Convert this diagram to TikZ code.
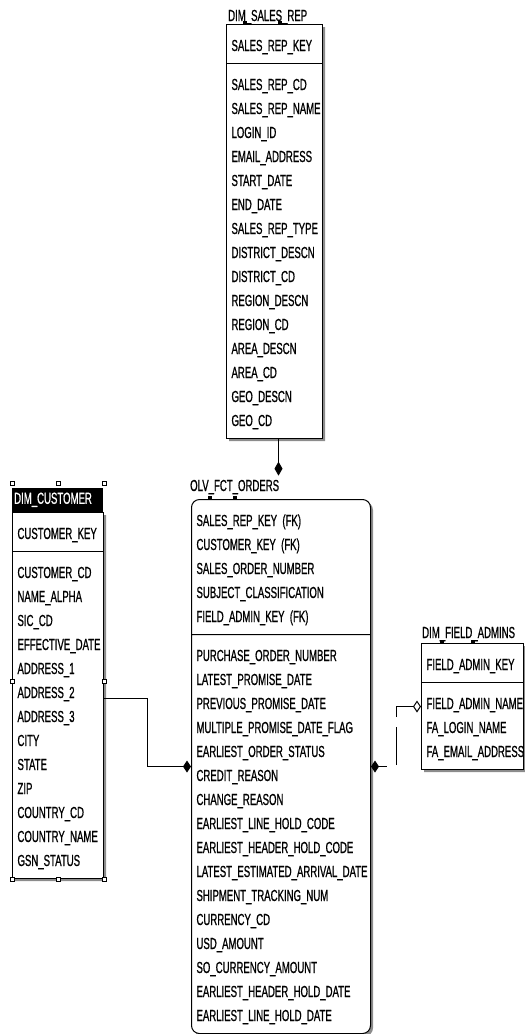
\documentclass[tikz,border=0pt]{standalone}
\usepackage{fontspec}
\usepackage{tikz}
\usetikzlibrary{arrows.meta}
\usetikzlibrary{calc}
\usetikzlibrary{positioning}
\usetikzlibrary{shadows}
\usetikzlibrary{shapes}

\newfontfamily\erfont[FakeStretch=0.6, FakeBold=0.8]{Liberation Sans}
\newcommand{\rw}{\rule[-5pt]{0pt}{\baselineskip}}

\tikzset{
	entity/.style={rectangle split, rectangle split parts=2, draw, line width=1pt,
		fill=white, align=left, inner xsep=5pt, inner ysep=7pt, anchor=north west,
		font=\erfont\fontsize{16}{24}\selectfont,
		drop shadow={shadow xshift=2.5pt, shadow yshift=-2.5pt, fill=black!45, opacity=1}},
	tablename/.style={anchor=base west, inner sep=0pt, font=\erfont\fontsize{16}{24}\selectfont},
	fkmark/.style={fill=black, minimum width=4pt, minimum height=3pt, inner sep=0pt, anchor=south},
	handle/.style={draw, fill=white, line width=0.8pt, minimum size=4pt, inner sep=0pt},
	idrel/.style={line width=1pt},
}

\begin{document}
\begin{tikzpicture}[x=1pt, y=-1pt]
	\useasboundingbox (0,0) rectangle (525,1034);

	\node[entity, text width=86pt] (salesrep) at (226,24) {\rw SALES\_REP\_KEY
	\nodepart{second}
	\rw SALES\_REP\_CD\\
	\rw SALES\_REP\_NAME\\
	\rw LOGIN\_ID\\
	\rw EMAIL\_ADDRESS\\
	\rw START\_DATE\\
	\rw END\_DATE\\
	\rw SALES\_REP\_TYPE\\
	\rw DISTRICT\_DESCN\\
	\rw DISTRICT\_CD\\
	\rw REGION\_DESCN\\
	\rw REGION\_CD\\
	\rw AREA\_DESCN\\
	\rw AREA\_CD\\
	\rw GEO\_DESCN\\
	\rw GEO\_CD};
	\node[tablename] (salesreplabel) at ([shift={(2pt,3pt)}]salesrep.north west) {DIM\_SALES\_REP};
	\node[fkmark] (salesrepmarka) at ([xshift=19pt]salesrep.north west) {};
	\node[fkmark] (salesrepmarkb) at ([xshift=54pt]salesrep.north west) {};

	\node[entity, rounded corners=8pt, text width=169pt] (orders) at (191,499) {\rw SALES\_REP\_KEY (FK)\\
	\rw CUSTOMER\_KEY (FK)\\
	\rw SALES\_ORDER\_NUMBER\\
	\rw SUBJECT\_CLASSIFICATION\\
	\rw FIELD\_ADMIN\_KEY (FK)
	\nodepart{second}
	\rw PURCHASE\_ORDER\_NUMBER\\
	\rw LATEST\_PROMISE\_DATE\\
	\rw PREVIOUS\_PROMISE\_DATE\\
	\rw MULTIPLE\_PROMISE\_DATE\_FLAG\\
	\rw EARLIEST\_ORDER\_STATUS\\
	\rw CREDIT\_REASON\\
	\rw CHANGE\_REASON\\
	\rw EARLIEST\_LINE\_HOLD\_CODE\\
	\rw EARLIEST\_HEADER\_HOLD\_CODE\\
	\rw LATEST\_ESTIMATED\_ARRIVAL\_DATE\\
	\rw SHIPMENT\_TRACKING\_NUM\\
	\rw CURRENCY\_CD\\
	\rw USD\_AMOUNT\\
	\rw SO\_CURRENCY\_AMOUNT\\
	\rw EARLIEST\_HEADER\_HOLD\_DATE\\
	\rw EARLIEST\_LINE\_HOLD\_DATE};
	\node[tablename] (orderslabel) at ([shift={(-1pt,8pt)}]orders.north west) {OLV\_FCT\_ORDERS};
	\node[fkmark] (ordersmarka) at ([xshift=19pt]orders.north west) {};
	\node[fkmark] (ordersmarkb) at ([xshift=44pt]orders.north west) {};

	\node[entity, text width=81pt] (customer) at (12,512) {\rw CUSTOMER\_KEY
	\nodepart{second}
	\rw CUSTOMER\_CD\\
	\rw NAME\_ALPHA\\
	\rw SIC\_CD\\
	\rw EFFECTIVE\_DATE\\
	\rw ADDRESS\_1\\
	\rw ADDRESS\_2\\
	\rw ADDRESS\_3\\
	\rw CITY\\
	\rw STATE\\
	\rw ZIP\\
	\rw COUNTRY\_CD\\
	\rw COUNTRY\_NAME\\
	\rw GSN\_STATUS};
	\node[fill=black, text=white, anchor=south west, inner xsep=2pt, inner ysep=0pt,
		minimum height=24pt, text width=87pt, align=left,
		font=\erfont\fontsize{16}{24}\selectfont] (customerlabel) at (customer.north west) {DIM\_CUSTOMER};

	\node[entity, text width=92pt] (fieldadmin) at (421,643) {\rw FIELD\_ADMIN\_KEY
	\nodepart{second}
	\rw FIELD\_ADMIN\_NAME\\
	\rw FA\_LOGIN\_NAME\\
	\rw FA\_EMAIL\_ADDRESS};
	\node[tablename] (fieldadminlabel) at ([shift={(1pt,5pt)}]fieldadmin.north west) {DIM\_FIELD\_ADMINS};
	\node[fkmark] (fieldadminmarka) at ([xshift=21pt]fieldadmin.north west) {};
	\node[fkmark] (fieldadminmarkb) at ([xshift=52pt]fieldadmin.north west) {};

	% selection handles
	\coordinate (selnw) at ([yshift=4pt]customerlabel.north west);
	\coordinate (selse) at (customer.south east);
	\foreach \p [count=\i] in {0, 0.5, 1}{
		\node[handle] (handletop\i) at ($(selnw)!\p!(selnw -| selse)$) {};
		\node[handle] (handlebot\i) at ($(selnw |- selse)!\p!(selse)$) {};
	}
	\node[handle] (handleleft) at ($(selnw)!0.5!(selnw |- selse)$) {};
	\node[handle] (handleright) at ($(selnw -| selse)!0.5!(selse)$) {};

	\draw[idrel, -{Diamond[length=14pt, width=8pt]}] ([xshift=4pt]salesrep.south) -- ([xshift=4pt, yshift=4pt]salesrep.south |- orderslabel.north);
	\draw[idrel, -{Diamond[length=8pt, width=12pt]}] ([yshift=-3pt]customer.east) -- ++(43pt,0) |- (orders.west);
	\draw[idrel, dash pattern=on 38pt off 10pt, dash phase=29pt,
		{Diamond[length=8pt, width=12pt]}-{Diamond[open, length=8pt, width=12pt]}] (orders.east) -- ++(25pt,0) |- (fieldadmin.west);
\end{tikzpicture}
\end{document}
